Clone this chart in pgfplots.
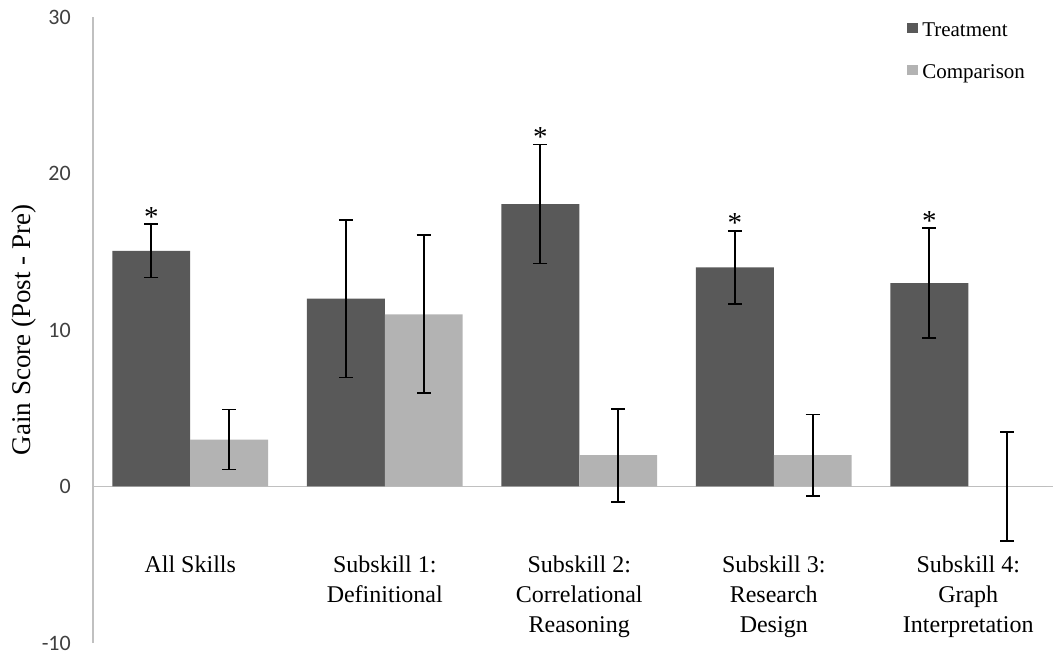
\documentclass[border=0pt]{standalone}
\usepackage{pgfplots}
\pgfplotsset{compat=1.18}
\usepackage{fontspec}
\setmainfont{Liberation Serif}
\newfontfamily\carlito{Carlito}
\definecolor{treat}{HTML}{595959}
\definecolor{comp}{HTML}{B3B3B3}
\definecolor{axgray}{HTML}{C0C0C0}
\definecolor{ticktext}{HTML}{404040}
\begin{document}
\begin{tikzpicture}
\begin{axis}[
  scale only axis, width=972.5bp, height=626bp,
  xmin=-0.5, xmax=4.5, ymin=-10, ymax=30,
  axis line style={draw=none},
  ybar=0pt, bar width=0.4,
  xtick={0,1,2,3,4},
  xticklabels={All Skills, {Subskill 1:\\Definitional}, {Subskill 2:\\Correlational\\Reasoning}, {Subskill 3:\\Research\\Design}, {Subskill 4:\\Graph\\Interpretation}},
  ytick={-10,0,10,20,30},
  yticklabels={-10,0,10,20,30},
  major tick length=0pt,
  xticklabel style={align=center, font=\fontsize{24bp}{30bp}\selectfont, anchor=north, inner sep=0pt, yshift=87bp},
  yticklabel style={font=\carlito\fontsize{22bp}{26bp}\selectfont, text=ticktext, anchor=east, inner sep=0pt, xshift=-22bp},
  legend style={draw=none, fill=none, at={(rel axis cs:0.834,0.995)}, anchor=north west,
    font=\fontsize{21bp}{25bp}\selectfont, row sep=27bp, column sep=4bp, nodes={inner sep=0pt}},
  legend cell align=left,
  legend image code/.code={\fill[#1] (0bp,-3bp) rectangle (11bp,7bp);},
  error bars/y dir=both, error bars/y explicit,
  error bars/error bar style={black, line width=1.8bp},
  error bars/error mark options={rotate=90, mark size=7bp, line width=1.8bp, black},
  clip=false,
]
\draw[axgray, line width=1.2bp] (axis cs:-0.5,-10) -- (axis cs:-0.5,30);
\draw[axgray, line width=1.2bp] (axis cs:-0.5,0) -- (axis cs:4.5,0);
\addplot[fill=treat, draw=none] coordinates {
  (0,15.05) +- (0,1.7)
  (1,12) +- (0,5.03)
  (2,18.05) +- (0,3.8)
  (3,14) +- (0,2.35)
  (4,13) +- (0,3.5)
};
\addplot[fill=comp, draw=none] coordinates {
  (0,3) +- (0,1.92)
  (1,11) +- (0,5.05)
  (2,2) +- (0,2.97)
  (3,2) +- (0,2.6)
  (4,0) +- (0,3.5)
};
\legend{Treatment, Comparison}
\node[anchor=base, inner sep=0pt, font=\fontsize{29bp}{32bp}\selectfont] at (axis cs:-0.2,16.6) {*};
\node[anchor=base, inner sep=0pt, font=\fontsize{29bp}{32bp}\selectfont] at (axis cs:1.8,21.7) {*};
\node[anchor=base, inner sep=0pt, font=\fontsize{29bp}{32bp}\selectfont] at (axis cs:2.8,16.2) {*};
\node[anchor=base, inner sep=0pt, font=\fontsize{29bp}{32bp}\selectfont] at (axis cs:3.8,16.35) {*};
\node[rotate=90, font=\fontsize{27bp}{30bp}\selectfont] at ([xshift=-69bp]rel axis cs:0,0.5) {Gain Score (Post - Pre)};
\coordinate (sw) at (rel axis cs:0,0);
\end{axis}
\pgfresetboundingbox
\path[use as bounding box] ([shift={(-93bp,-12bp)}]sw) rectangle ([shift={(960bp,643bp)}]sw);
\end{tikzpicture}
\end{document}
